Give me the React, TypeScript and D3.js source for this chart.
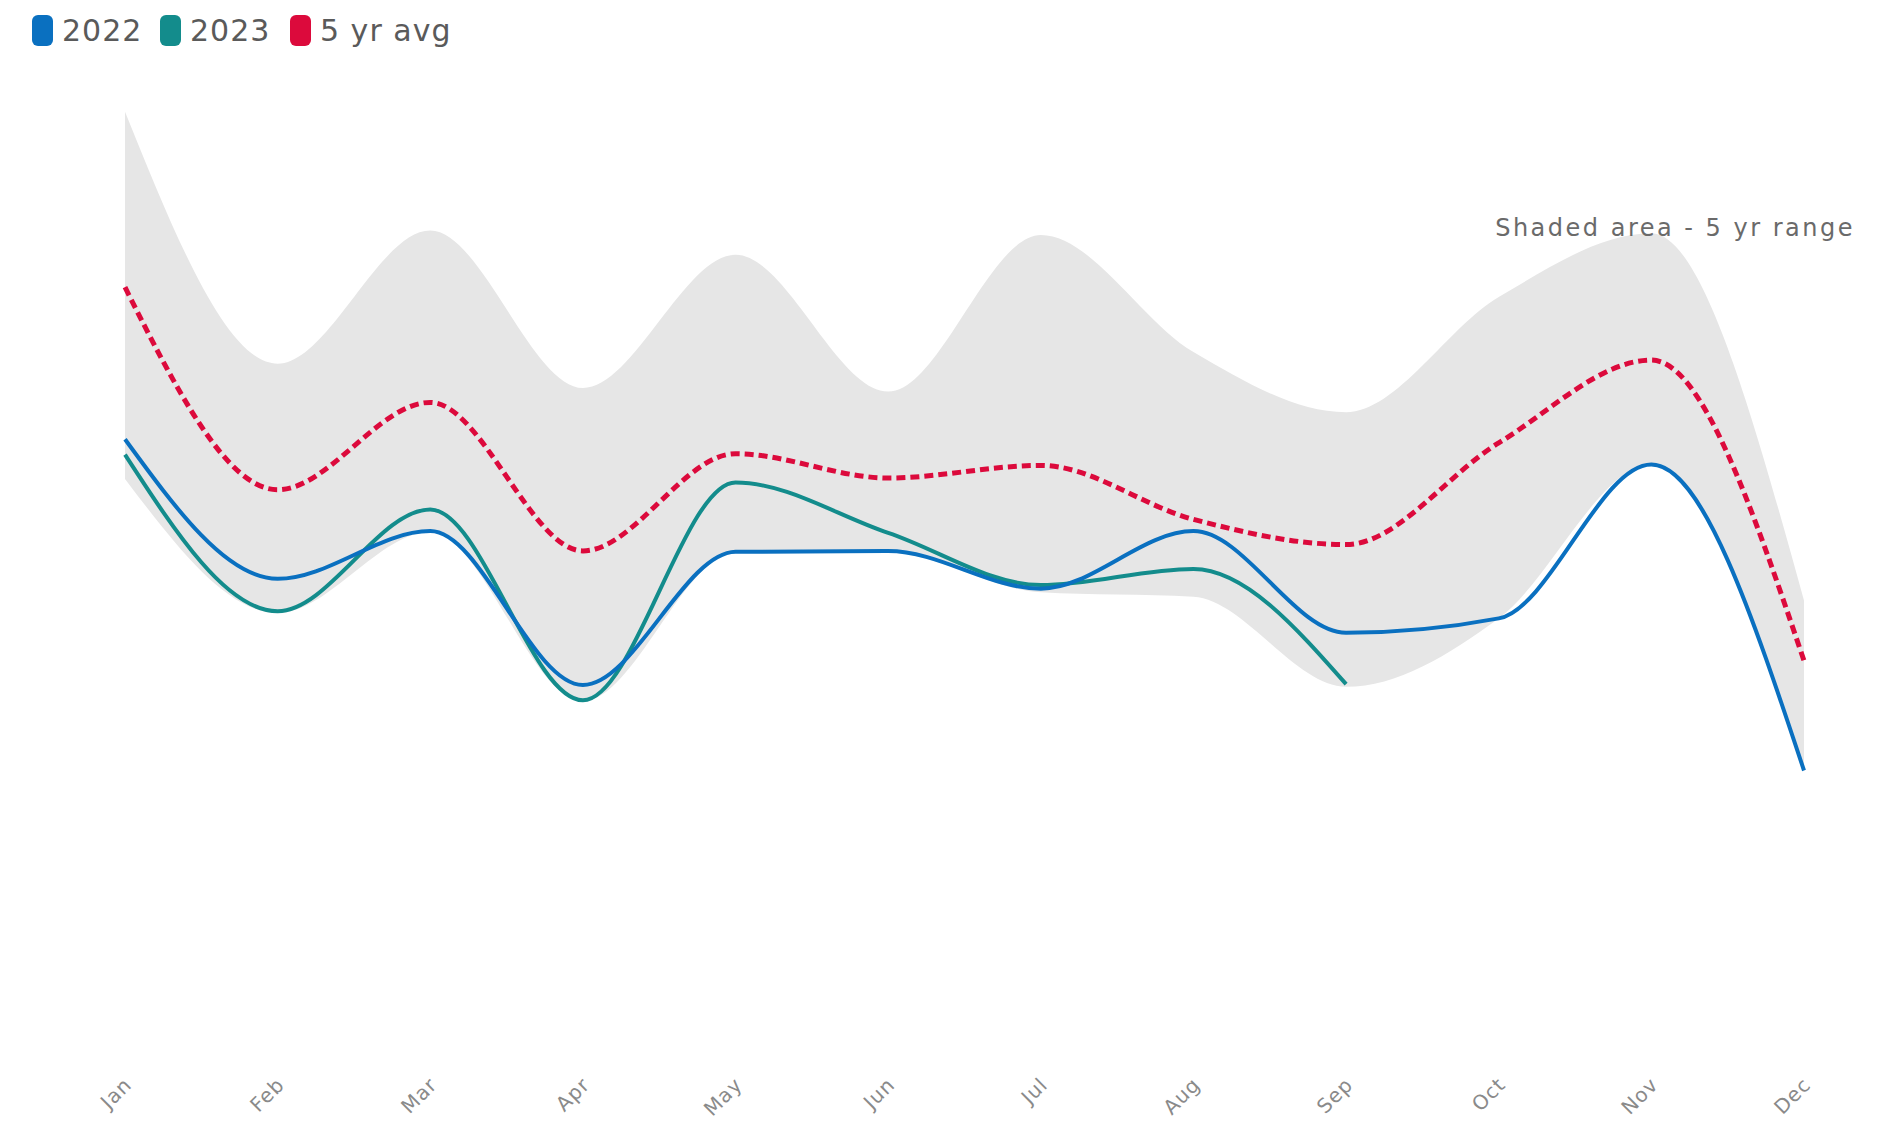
import * as d3 from 'd3';

const months = ['Jan', 'Feb', 'Mar', 'Apr', 'May', 'Jun', 'Jul', 'Aug', 'Sep', 'Oct', 'Nov', 'Dec'];

// 5 yr range (shaded)
const rangeMax = [98.7, 70.7, 85.5, 68.0, 82.8, 67.6, 85.0, 72.0, 65.3, 78.1, 85.2, 44.4];
const rangeMin = [57.9, 43.0, 52.0, 33.2, 49.7, 49.7, 45.3, 44.8, 34.8, 42.4, 59.5, 25.5];

const avg5yr = [79.2, 56.7, 66.4, 49.9, 60.7, 58.0, 59.4, 53.4, 50.6, 61.9, 71.1, 37.7];
const values2022 = [62.3, 46.8, 52.1, 35.0, 49.8, 49.9, 45.7, 52.1, 40.8, 42.4, 59.5, 25.5];
const values2023 = [60.6, 43.2, 54.5, 33.3, 57.5, 51.9, 46.1, 47.9, 35.1];

const legendItems = [
    { label: '2022', color: '#0a70c0' },
    { label: '2023', color: '#138c8c' },
    { label: '5 yr avg', color: '#dc0a3c' },
];

const width = 1902;
const height = 1123;
const FONT = '"DejaVu Sans", sans-serif';

export default function App() {
    // x, y scale
    const x = d3.scalePoint<string>().domain(months).range([125, 1804]);
    const y = d3.scaleLinear().domain([0, 100]).range([1000, 100]);

    const area = d3.area<number>()
        .x((_, i) => x(months[i])!)
        .y0((_, i) => y(rangeMin[i]))
        .y1((d) => y(d))
        .curve(d3.curveMonotoneX);

    const line = d3.line<number>()
        .x((_, i) => x(months[i])!)
        .y((d) => y(d))
        .curve(d3.curveMonotoneX);

    const legendX = [32, 160, 290];

    return (
        <svg
            width={width}
            height={height}
            style={{ position: 'absolute', left: 0, top: 0, display: 'block', background: '#fff' }}
        >
            {/* shaded range */}
            <path d={area(rangeMax) ?? ''} fill="#e6e6e6" />

            {/* lines */}
            <path d={line(avg5yr) ?? ''} fill="none" stroke="#dc0a3c" strokeWidth={5} strokeDasharray="9 5" />
            <path d={line(values2023) ?? ''} fill="none" stroke="#138c8c" strokeWidth={4} />
            <path d={line(values2022) ?? ''} fill="none" stroke="#0a70c0" strokeWidth={4} />

            {/* annotation */}
            <text x={1855} y={236} textAnchor="end" fontFamily={FONT} fontSize={24} letterSpacing={2.5} fill="#6a6a6a">
                Shaded area - 5 yr range
            </text>

            {/* x axis labels */}
            <g fontFamily={FONT} fontSize={20} letterSpacing={1} fill="#8a8a8a">
                {months.map((m) => (
                    <text
                        key={m}
                        textAnchor="end"
                        transform={`translate(${x(m)! + 8},1086) rotate(-45)`}
                    >
                        {m}
                    </text>
                ))}
            </g>

            {/* legend */}
            <g fontFamily={FONT} fontSize={30} letterSpacing={1} fill="#5a5a5a">
                {legendItems.map((item, i) => (
                    <g key={item.label} transform={`translate(${legendX[i]},0)`}>
                        <rect x={0} y={15} width={21} height={31} rx={6} fill={item.color} />
                        <text x={30} y={41}>{item.label}</text>
                    </g>
                ))}
            </g>
        </svg>
    );
}
